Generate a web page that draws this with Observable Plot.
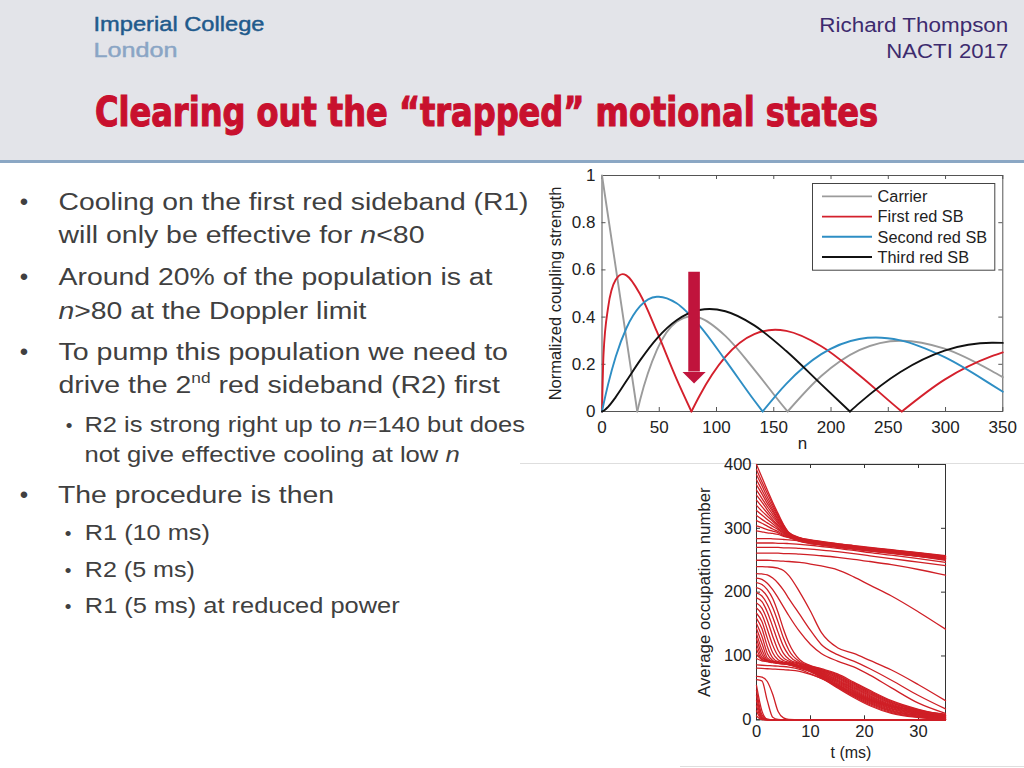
<!DOCTYPE html>
<html><head><meta charset="utf-8">
<script src="https://cdn.jsdelivr.net/npm/d3@7"></script>
<script src="https://cdn.jsdelivr.net/npm/@observablehq/plot@0.6"></script>
<style>
html,body{margin:0;padding:0;background:#fff;}
#slide{position:relative;width:1024px;height:768px;overflow:hidden;background:#fff;font-family:"Liberation Sans",Arial,sans-serif;}
.abs{position:absolute;}
</style></head>
<body><div id="slide">
<div class="abs" style="left:0;top:0;width:1024px;height:160px;background:#e3e4e9;"></div>
<div class="abs" style="left:0;top:160px;width:1024px;height:3px;background:#8ba7c4;"></div>
<div class="abs" style="left:520px;top:463px;width:504px;height:1px;background:#dedede;"></div>
<div class="abs" style="left:680px;top:766px;width:344px;height:1px;background:#dedede;"></div>

<svg class="abs" style="left:0;top:0" width="1024" height="160" font-family="Liberation Sans, Arial, sans-serif">
  <text x="93.5" y="31" font-size="20.5" textLength="171" lengthAdjust="spacingAndGlyphs" fill="#1f5a8c" stroke="#1f5a8c" stroke-width="0.45">Imperial College</text>
  <text x="93.5" y="57.3" font-size="20.5" textLength="84" lengthAdjust="spacingAndGlyphs" fill="#8aa5c5" stroke="#8aa5c5" stroke-width="0.45">London</text>
  <text x="1008.3" y="31.7" font-size="19.5" text-anchor="end" textLength="189" lengthAdjust="spacingAndGlyphs" fill="#3d2b6e">Richard Thompson</text>
  <text x="1008.3" y="58.3" font-size="19.5" text-anchor="end" textLength="122" lengthAdjust="spacingAndGlyphs" fill="#3d2b6e">NACTI 2017</text>
  <text x="95" y="126" font-size="40.5" font-weight="bold" font-family="Liberation Sans Narrow, DejaVu Sans Condensed, Liberation Sans, sans-serif" textLength="783" lengthAdjust="spacingAndGlyphs" fill="#c8102e" stroke="#c8102e" stroke-width="1.1">Clearing out the “trapped” motional states</text>
</svg>

<svg class="abs" style="left:0;top:0" width="540" height="640" font-family="Liberation Sans, Arial, sans-serif" fill="#404040">
  <text x="24" y="209.5" font-size="24" text-anchor="middle">•</text>
  <text x="58.5" y="209.5" font-size="24.7" textLength="470" lengthAdjust="spacingAndGlyphs">Cooling on the first red sideband (R1)</text>
  <text x="58.5" y="243" font-size="24.7" textLength="366" lengthAdjust="spacingAndGlyphs">will only be effective for <tspan font-style="italic">n</tspan>&lt;80</text>
  <text x="24" y="284.5" font-size="24" text-anchor="middle">•</text>
  <text x="58.5" y="284.5" font-size="24.7" textLength="434" lengthAdjust="spacingAndGlyphs">Around 20% of the population is at</text>
  <text x="58.5" y="318.5" font-size="24.7" textLength="308" lengthAdjust="spacingAndGlyphs"><tspan font-style="italic">n</tspan>&gt;80 at the Doppler limit</text>
  <text x="24" y="359.5" font-size="24" text-anchor="middle">•</text>
  <text x="58.5" y="359.5" font-size="24.7" textLength="449.5" lengthAdjust="spacingAndGlyphs">To pump this population we need to</text>
  <text x="58.5" y="393" font-size="24.7" textLength="441.5" lengthAdjust="spacingAndGlyphs">drive the 2<tspan font-size="15" dy="-10">nd</tspan><tspan dy="10"> red sideband (R2) first</tspan></text>
  <text x="69" y="432" font-size="19" text-anchor="middle">•</text>
  <text x="84.4" y="432" font-size="22" textLength="440.6" lengthAdjust="spacingAndGlyphs">R2 is strong right up to <tspan font-style="italic">n</tspan>=140 but does</text>
  <text x="84.4" y="462" font-size="22" textLength="375.3" lengthAdjust="spacingAndGlyphs">not give effective cooling at low <tspan font-style="italic">n</tspan></text>
  <text x="24" y="503.3" font-size="24" text-anchor="middle">•</text>
  <text x="58" y="503.3" font-size="24.7" textLength="276" lengthAdjust="spacingAndGlyphs">The procedure is then</text>
  <text x="68" y="540" font-size="19" text-anchor="middle">•</text>
  <text x="84.8" y="540" font-size="22" textLength="125" lengthAdjust="spacingAndGlyphs">R1 (10 ms)</text>
  <text x="68" y="576.7" font-size="19" text-anchor="middle">•</text>
  <text x="84.8" y="576.7" font-size="22" textLength="110" lengthAdjust="spacingAndGlyphs">R2 (5 ms)</text>
  <text x="68" y="613.3" font-size="19" text-anchor="middle">•</text>
  <text x="84.8" y="613.3" font-size="22" textLength="314.8" lengthAdjust="spacingAndGlyphs">R1 (5 ms) at reduced power</text>
</svg>

<div id="topChart" class="abs" style="left:540px;top:165px"></div>
<div id="legend" class="abs" style="left:811.7px;top:183.3px"></div>
<div id="bottomChart" class="abs" style="left:680px;top:455px"></div>
</div>
<script>
// ---------- top chart data: normalized coupling strength vs n ----------
const seriesNames = ["Carrier", "First red SB", "Second red SB", "Third red SB"];
const seriesColors = ["#9b9b9b", "#d4202c", "#2e8ec4", "#111111"];

const carrier = [[0,1],[30.8,0],[33.24,0.0484],[47.87,0.2601],[65.16,0.3801],[78.1,0.4028],[85.1,0.3971],[107.7,0.3205],[133,0.1776],[160.9,0.0068],[162.1,0],[191.5,0.1506],[224.7,0.2601],[260.6,0.3001],[261.8,0.3001],[299.2,0.2663],[340.4,0.1717],[350,0.1454]];
const firstRed = [[0,0],[1.33,0.2423],[5.32,0.4401],[11.97,0.5579],[18.03,0.5819],[21.28,0.5767],[33.24,0.4971],[47.87,0.3391],[65.16,0.1374],[78.1,0],[85.1,0.066],[107.7,0.2311],[133,0.3276],[151.2,0.3461],[160.9,0.3414],[191.5,0.2767],[224.7,0.1538],[260.6,0.0047],[261.8,0],[299.2,0.1352],[340.4,0.2346],[350,0.2506]];
const secondRed = [[0,0],[1.33,0.0307],[5.32,0.115],[11.97,0.2321],[21.28,0.3528],[33.24,0.4461],[47.87,0.4862],[49.62,0.4865],[65.16,0.4586],[85.1,0.3641],[107.7,0.2178],[133,0.0466],[140.3,0],[160.9,0.1173],[191.5,0.2429],[224.7,0.3074],[239.2,0.3135],[260.6,0.3014],[299.2,0.2302],[340.4,0.113],[350,0.0836]];
const thirdRed = [[0,0],[1.33,0.0026],[5.32,0.0196],[11.97,0.061],[21.28,0.1289],[33.24,0.2167],[47.87,0.3092],[65.16,0.3867],[85.1,0.4301],[93.9,0.4344],[107.7,0.4247],[133,0.3649],[160.9,0.2561],[191.5,0.1148],[216.5,0],[224.7,0.0354],[260.6,0.1675],[299.2,0.258],[340.4,0.2911],[341.7,0.2911],[350,0.2906]];
const xTicksTop = [0, 50, 100, 150, 200, 250, 300, 350];
const yTicksTop = [0, 0.2, 0.4, 0.6, 0.8, 1];
const arrowMark = [{n: 80.4, top: 0.59, base: 0.167, tip: 0.119}];

// ---------- bottom chart data: average occupation number vs t (ms) ----------
const occTimes = [0,1,2,3,4,5,6,8,10,12,15,18,21,25,30,35];
const occUpperBand = [
  [400,380,360,341,323,306,293.5,285.5,282,279.5,276,273,270,266.5,262,257],
  [392,373,355,337,320,305,293,285,281.5,279,275.5,272.5,269.5,266,261.5,256.5],
  [384,367,349,333,318,303,292,284.5,281,278.5,275,272,269,265.5,261,256],
  [376,360,344,329,315,302,291.5,284.1,280.6,278.1,274.6,271.6,268.6,265.1,260.6,255.6],
  [368,354,339,326,313,300.5,291,283.7,280.2,277.7,274.2,271.2,268.2,264.7,260.2,255.2],
  [360,347,334,322,310,299,290.5,283.2,279.7,277.2,273.7,270.7,267.7,264.2,259.7,254.7],
  [352,341,329,318,308,297.5,289.5,282.8,279.3,276.8,273.3,270.3,267.3,263.8,259.3,254.3],
  [344,334,324,314,305,296,289,282.3,278.8,276.3,272.8,269.8,266.8,263.3,258.8,253.8],
  [336,327,319,311,303,294.5,288.5,281.9,278.4,275.9,272.4,269.4,266.4,262.9,258.4,253.4],
  [328,321,314,307,300,293,287.5,281.5,278,275.5,272,269,266,262.5,258,253],
  [320,314,308.5,303,298,291.5,287,281,277.5,275,271.5,268.5,265.5,262,257.5,252.5],
  [312,308,303.5,299,295,290,286.5,280.5,277,274.5,271,268,265,261.5,257,252],
  [304,301,298,295.5,293,288.5,286,280.1,276.6,274.1,270.6,267.6,264.6,261.1,256.6,251.6],
  [296,294.5,293,292,290.5,287.5,285.5,279.7,276.2,273.7,270.2,267.2,264.2,260.7,256.2,251.2]
];
const occFlat = [
  [284,284,284,283.5,283,282.5,282,280.5,278,275.5,272,268.5,265.5,261.5,256,250],
  [277,277,277,277,276.5,276.5,276,275,273.5,271.5,268.5,265.5,262,258,252.5,246.5],
  [270,270,270,270,270,269.5,269.5,268.5,267.5,266,263.5,260.5,257,252.5,247,241.5],
  [261,261,261,261,261,260.5,260.5,259.5,258.5,257,254.5,251.5,248,243,235.5,226.5],
  [250,250,250,249.5,249,248.5,248,246.5,244,241,235,224,211,194,169,142]
];
const occMid = [
  [240,240,239.5,239,237.5,234,226,200,170,137,113,104,93,78,55,30],
  [229,228.5,227,222,214,203,190,165,140,118,102,92,80,62,38,17],
  [222,220,214,204,191,177,163,138,118,104,92,83,70,50,26,10]
];
const occLowerBand = [
  [215,212,204,190,168,142,120,94,85,80,72,59,46,30,16.5,7.5],
  [207,203,193,176,153,128,109,91,84.3,79.1,70.5,57.4,44.4,28.7,15.6,7],
  [199,194,181,161,137,115,101,89,83.7,78.1,69.1,55.8,42.8,27.3,14.8,6.6],
  [191,185,169,146,122,104,95,88,83,77.2,67.6,54.2,41.2,26,13.9,6.1],
  [183,175,156,131,109,97,92,87,82.3,76.3,66.1,52.6,39.6,24.7,13,5.6],
  [175,165,142,117,100,93,90,85.5,81.7,75.3,64.7,51,38,23.3,12.2,5.2],
  [167,154,128,105,94,90.5,89,84.6,81,74.4,63.2,49.4,36.4,22,11.3,4.7],
  [159,143,115,97,91,89.5,88,84.2,80.3,73.5,61.7,47.8,34.8,20.7,10.4,4.2],
  [151,131,104,93,90,89,87.5,83.8,79.7,72.5,60.3,46.2,33.2,19.3,9.6,3.8],
  [143,120,97,91.5,89.5,88.5,87.5,83.4,79,71.6,58.8,44.6,31.6,18,8.7,3.3],
  [135,110,94,91,89.5,88.5,87.5,83,78.3,70.7,57.3,43,30,16.7,7.8,2.8],
  [127,103,93,91,89.5,88.5,87,82.6,77.7,69.7,55.9,41.4,28.4,15.3,7,2.4],
  [119,98,92.5,90.5,89,88,87,82.2,77,68.8,54.4,39.8,26.8,14,6.1,1.9],
  [111,95,92,90.5,89,88,86.5,81.8,76.3,67.9,52.9,38.2,25.2,12.7,5.2,1.4],
  [103,94,91.5,90,88.5,87.5,86.5,81.4,75.7,66.9,51.5,36.6,23.6,11.3,4.4,1],
  [96,92.5,91,89.5,88.5,87.5,86,81,75,66,50,35,22,10,3.5,0.5]
];
const occBelow = [
  [86,85.5,85,84.5,84,83.5,82.5,79,72,65,52,39,30,21,14,9],
  [81,80.5,80,79.5,79,78.5,78,76,71,65,54,42,32,22,13,7.5]
];
const occFast = [
  [68,67,60,40,13,3,0.5,0,0,0,0,0,0,0,0,0],
  [63,61,30,4,0.5,0,0,0,0,0,0,0,0,0,0,0],
  [54,14,1,0,0,0,0,0,0,0,0,0,0,0,0,0],
  [46,8,0.5,0,0,0,0,0,0,0,0,0,0,0,0,0],
  [38,5,0.3,0,0,0,0,0,0,0,0,0,0,0,0,0],
  [30,3,0,0,0,0,0,0,0,0,0,0,0,0,0,0],
  [22,1.5,0,0,0,0,0,0,0,0,0,0,0,0,0,0],
  [14,0.8,0,0,0,0,0,0,0,0,0,0,0,0,0,0],
  [6,0.3,0,0,0,0,0,0,0,0,0,0,0,0,0,0]
];
const xTicksBottom = [0, 10, 20, 30];
const yTicksBottom = [0, 100, 200, 300, 400];

// ---------- helpers ----------
function lobes(points) {
  const out = []; let lobe = 0;
  points.forEach(([n, v], i) => {
    out.push({n, v, lobe});
    if (v === 0 && i > 0 && i < points.length - 1) { lobe++; out.push({n, v, lobe}); }
  });
  return out;
}
const plotStyle = {background: "transparent", fontFamily: "'Liberation Sans', Arial, sans-serif", fontSize: "17px", color: "#222", overflow: "visible"};
const frameColor = "#555";
const arrowColor = "#c0143c";
const headSymbol = {draw(ctx) { ctx.moveTo(-11.6, -11.3); ctx.lineTo(11.6, -11.3); ctx.lineTo(0, 0); ctx.closePath(); }};

// ---------- top chart ----------
const topW = 484, topH = 291, topML = 61.5, topMR = 21.7, topMT = 10, topMB = 45;
const topInnerH = topH - topMT - topMB, topInnerW = topW - topML - topMR;
const tkY = 4 / topInnerH, tkX = 4 * 350 / topInnerW;
const series = [carrier, firstRed, secondRed, thirdRed];

const topChart = Plot.plot({
  width: topW, height: topH, marginLeft: topML, marginRight: topMR, marginTop: topMT, marginBottom: topMB,
  style: plotStyle,
  x: {domain: [0, 350]},
  y: {domain: [0, 1]},
  marks: [
    Plot.frame({stroke: frameColor}),
    Plot.ruleX(xTicksTop, {x: d => d, y1: 0, y2: tkY, stroke: frameColor}),
    Plot.ruleX(xTicksTop, {x: d => d, y1: 1, y2: 1 - tkY, stroke: frameColor}),
    Plot.ruleY(yTicksTop, {y: d => d, x1: 0, x2: tkX, stroke: frameColor}),
    Plot.ruleY(yTicksTop, {y: d => d, x1: 350, x2: 350 - tkX, stroke: frameColor}),
    Plot.axisX({ticks: xTicksTop, tickSize: 0, tickPadding: 9, label: null}),
    Plot.axisY({ticks: yTicksTop, tickSize: 0, tickPadding: 6.5, label: null, tickFormat: d => String(+d.toFixed(1))}),
    ...series.map((s, i) => Plot.line(lobes(s), {x: "n", y: "v", z: "lobe", curve: "monotone-x", stroke: seriesColors[i], strokeWidth: 1.9})),
    Plot.ruleX(arrowMark, {x: "n", y1: "base", y2: "top", stroke: arrowColor, strokeWidth: 11.6}),
    Plot.dot(arrowMark, {x: "n", y: "tip", symbol: headSymbol, r: 5, fill: arrowColor, stroke: "none"}),
    Plot.text(["n"], {text: d => d, frameAnchor: "bottom", dy: 37, fontSize: 17, textAnchor: "middle"}),
    Plot.text(["Normalized coupling strength"], {text: d => d, frameAnchor: "left", dx: -46, rotate: -90, fontSize: 16.5, textAnchor: "middle"})
  ]
});
document.getElementById("topChart").appendChild(topChart);

// legend (inside top chart)
(function () {
  const w = 183.3, h = 87.7;
  const svg = d3.create("svg").attr("width", w).attr("height", h)
    .style("font-family", "'Liberation Sans', Arial, sans-serif").style("overflow", "visible");
  svg.append("rect").attr("x", 0.5).attr("y", 0.5).attr("width", w - 1).attr("height", h - 1)
    .attr("fill", "#fff").attr("stroke", "#444");
  seriesNames.forEach((name, i) => {
    const y = 13.4 + i * 20.2;
    svg.append("line").attr("x1", 10).attr("x2", 60).attr("y1", y).attr("y2", y)
      .attr("stroke", seriesColors[i]).attr("stroke-width", 1.9);
    svg.append("text").attr("x", 65.6).attr("y", y).attr("dy", "0.36em")
      .attr("font-size", 16.3).attr("fill", "#222").text(name);
  });
  document.getElementById("legend").appendChild(svg.node());
})();

// ---------- bottom chart ----------
const botW = 280, botH = 312, botML = 76, botMR = 15, botMT = 9, botMB = 47.7;
const botInnerH = botH - botMT - botMB, botInnerW = botW - botML - botMR;
const bkY = 4 * 400 / botInnerH, bkX = 4 * 35 / botInnerW;
const allCurves = [...occUpperBand, ...occFlat, ...occMid, ...occLowerBand, ...occBelow, ...occFast];
const occData = allCurves.flatMap((row, k) => row.map((v, i) => ({t: occTimes[i], v, k})));

const bottomChart = Plot.plot({
  width: botW, height: botH, marginLeft: botML, marginRight: botMR, marginTop: botMT, marginBottom: botMB,
  style: plotStyle,
  x: {domain: [0, 35]},
  y: {domain: [0, 400]},
  marks: [
    Plot.frame({stroke: "#333"}),
    Plot.ruleX(xTicksBottom, {x: d => d, y1: 0, y2: bkY, stroke: "#333"}),
    Plot.ruleX(xTicksBottom, {x: d => d, y1: 400, y2: 400 - bkY, stroke: "#333"}),
    Plot.ruleY(yTicksBottom, {y: d => d, x1: 0, x2: bkX, stroke: "#333"}),
    Plot.ruleY(yTicksBottom, {y: d => d, x1: 35, x2: 35 - bkX, stroke: "#333"}),
    Plot.axisX({ticks: xTicksBottom, tickSize: 0, tickPadding: 5, label: null, fontSize: 16.5}),
    Plot.axisY({ticks: yTicksBottom, tickSize: 0, tickPadding: 5, label: null, fontSize: 16.5}),
    Plot.line(occData, {x: "t", y: "v", z: "k", curve: "monotone-x", stroke: "#cf1f26", strokeWidth: 1.3}),
    Plot.text(["t (ms)"], {text: d => d, frameAnchor: "bottom", dy: 38, fontSize: 16, textAnchor: "middle"}),
    Plot.text(["Average occupation number"], {text: d => d, frameAnchor: "left", dx: -52, rotate: -90, fontSize: 16.8, textAnchor: "middle"})
  ]
});
document.getElementById("bottomChart").appendChild(bottomChart);
</script>
</body></html>
